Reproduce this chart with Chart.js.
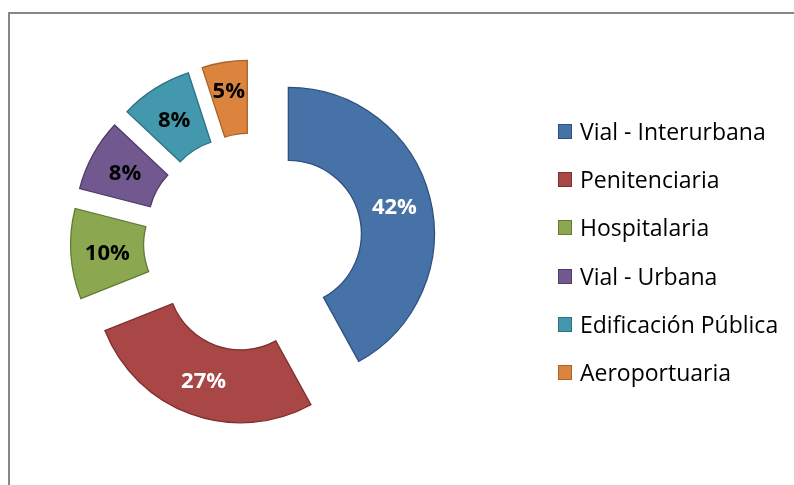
<!DOCTYPE html>
<html>
<head>
<meta charset="utf-8">
<script src="https://cdn.jsdelivr.net/npm/chart.js@4"></script>
<style>
  html, body { margin: 0; padding: 0; background: #fff; overflow: hidden; }
  #wrap { position: relative; width: 794px; height: 485px; }
  #frame { position: absolute; left: 8px; top: 12px; width: 820px; height: 520px;
           border: 2px solid #878787; box-sizing: border-box; }
  #c { position: absolute; left: 0; top: 0; }
  #legend { position: absolute; left: 558px; top: 107px; font-family: "Open Sans", sans-serif;
            font-size: 23px; color: #000; }
  .row { display: flex; align-items: center; height: 48.3px; white-space: nowrap; }
  .box { width: 14px; height: 15px; box-sizing: border-box; border: 1px solid; margin-right: 8px; flex: none; }
  .txt { line-height: 1; }
</style>
</head>
<body>
<div id="wrap">
  <div id="frame"></div>
  <canvas id="c" width="794" height="485"></canvas>
  <div id="legend"></div>
</div>
<script>
// ---- data ----
const categories = ["Vial - Interurbana", "Penitenciaria", "Hospitalaria", "Vial - Urbana", "Edificación Pública", "Aeroportuaria"];
const shares = [42, 27, 10, 8, 8, 5];
const shareLabels = ["42%", "27%", "10%", "8%", "8%", "5%"];

// ---- styles ----
const fillColors = ["#4672A7", "#A84745", "#8BA850", "#71588F", "#4398AE", "#DA843E"];
const edgeColors = ["#2D5080", "#7D302E", "#627A36", "#4F3C6A", "#2E7084", "#A9622A"];
const labelColors = ["#FFFFFF", "#FFFFFF", "#000000", "#000000", "#000000", "#000000"];
const labelRadialNudge = [0, 0, 0, 0, 1, 9];
const explode = 36.5;

const explodePlugin = {
  id: 'explode',
  beforeDatasetDraw(chart, args) {
    const ctx = chart.ctx;
    args.meta.data.forEach(arc => {
      const mid = (arc.startAngle + arc.endAngle) / 2;
      ctx.save();
      ctx.translate(Math.cos(mid) * explode, Math.sin(mid) * explode);
      arc.draw(ctx);
      ctx.restore();
    });
    return false;
  }
};

const labelPlugin = {
  id: 'sliceLabels',
  afterDatasetsDraw(chart) {
    const ctx = chart.ctx;
    const meta = chart.getDatasetMeta(0);
    ctx.save();
    ctx.font = 'bold 22px "Open Sans", sans-serif';
    ctx.textAlign = 'center';
    ctx.textBaseline = 'middle';
    meta.data.forEach((arc, i) => {
      const mid = (arc.startAngle + arc.endAngle) / 2;
      const p = arc.getCenterPoint();
      const shift = explode + labelRadialNudge[i];
      ctx.fillStyle = labelColors[i];
      ctx.fillText(shareLabels[i], p.x + Math.cos(mid) * shift, p.y + Math.sin(mid) * shift + 2);
    });
    ctx.restore();
  }
};

new Chart(document.getElementById('c'), {
  type: 'doughnut',
  data: {
    labels: categories,
    datasets: [{
      data: shares,
      backgroundColor: fillColors,
      borderColor: edgeColors,
      borderWidth: 1.3,
      borderJoinStyle: 'miter',
      hoverOffset: 0
    }]
  },
  options: {
    responsive: false,
    devicePixelRatio: 1,
    animation: false,
    radius: 146,
    cutout: '50%',
    layout: { padding: { left: 0, right: 288, top: 0, bottom: 0 } },
    plugins: { legend: { display: false }, tooltip: { enabled: false } },
    events: []
  },
  plugins: [explodePlugin, labelPlugin]
});

// legend built from the same arrays
const lg = document.getElementById('legend');
categories.forEach((name, i) => {
  const row = document.createElement('div');
  row.className = 'row';
  const b = document.createElement('span');
  b.className = 'box';
  b.style.background = fillColors[i];
  b.style.borderColor = edgeColors[i];
  const t = document.createElement('span');
  t.className = 'txt';
  t.textContent = name;
  row.appendChild(b); row.appendChild(t);
  lg.appendChild(row);
});
</script>
</body>
</html>
